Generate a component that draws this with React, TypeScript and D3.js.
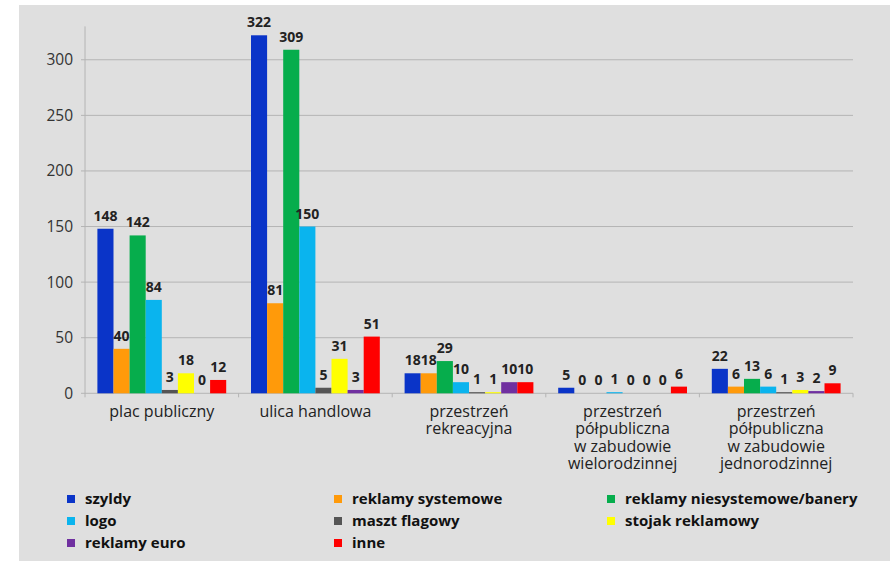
import React from "react";
import * as d3 from "d3";

const categories: string[][] = [
  ["plac publiczny"],
  ["ulica handlowa"],
  ["przestrzeń", "rekreacyjna"],
  ["przestrzeń", "półpubliczna", "w zabudowie", "wielorodzinnej"],
  ["przestrzeń", "półpubliczna", "w zabudowie", "jednorodzinnej"],
];

const seriesNames = [
  "szyldy",
  "reklamy systemowe",
  "reklamy niesystemowe/banery",
  "logo",
  "maszt flagowy",
  "stojak reklamowy",
  "reklamy euro",
  "inne",
];

const seriesColors = [
  "#0a34c8",
  "#ff9a0a",
  "#06ad4c",
  "#0ab4ee",
  "#555555",
  "#ffff00",
  "#7030a0",
  "#ff0000",
];

// one array per series, one value per category
const szyldy = [148, 322, 18, 5, 22];
const reklamySystemowe = [40, 81, 18, 0, 6];
const reklamyNiesystemowe = [142, 309, 29, 0, 13];
const logo = [84, 150, 10, 1, 6];
const masztFlagowy = [3, 5, 1, 0, 1];
const stojakReklamowy = [18, 31, 1, 0, 3];
const reklamyEuro = [0, 3, 10, 0, 2];
const inne = [12, 51, 10, 6, 9];

const seriesValues = [
  szyldy,
  reklamySystemowe,
  reklamyNiesystemowe,
  logo,
  masztFlagowy,
  stojakReklamowy,
  reklamyEuro,
  inne,
];

const yTicks = [0, 50, 100, 150, 200, 250, 300];

// legend order, laid out in three columns
const legendOrder = [0, 1, 2, 3, 4, 5, 6, 7];

export default function App() {
  const W = 890;
  const H = 561;
  const left = 85;
  const right = 853;
  const top = 26.4;
  const bottom = 393.3;

  const x0 = d3
    .scaleBand<number>()
    .domain(categories.map((_, i) => i))
    .range([left, right])
    .padding(0);
  const bw = x0.bandwidth();
  const x1 = d3
    .scaleBand<number>()
    .domain(seriesNames.map((_, i) => i))
    .range([12.4, bw - 12.4])
    .padding(0);
  const y = d3.scaleLinear().domain([0, 330]).range([bottom, top]);

  const font = "'Open Sans', 'DejaVu Sans', sans-serif";
  const legendCols = [67, 334, 607];
  const legendRows = [499, 521, 543];

  return (
    <svg
      width={W}
      height={H}
      style={{ position: "absolute", left: 0, top: 0 }}
      fontFamily={font}
    >
      <rect x={0} y={0} width={W} height={H} fill="#ffffff" />
      <rect x={19} y={5} width={W - 19} height={H - 5} fill="#dfdfdf" />

      {/* gridlines */}
      {yTicks.slice(1).map((t) => (
        <line
          key={"g" + t}
          x1={left}
          x2={right}
          y1={y(t)}
          y2={y(t)}
          stroke="#b4b4b4"
          strokeWidth={1}
        />
      ))}

      {/* y axis */}
      <line x1={left} x2={left} y1={top} y2={bottom} stroke="#b4b4b4" />
      {yTicks.map((t) => (
        <g key={"t" + t}>
          <line x1={left - 4} x2={left} y1={y(t)} y2={y(t)} stroke="#b4b4b4" />
          <text
            x={73}
            y={y(t)}
            dy="0.35em"
            textAnchor="end"
            fontSize={15.5}
            fill="#333"
          >
            {t}
          </text>
        </g>
      ))}

      {/* x axis */}
      <line x1={left} x2={right} y1={bottom} y2={bottom} stroke="#b4b4b4" />
      {d3.range(categories.length + 1).map((k) => (
        <line
          key={"xt" + k}
          x1={left + k * bw}
          x2={left + k * bw}
          y1={bottom}
          y2={bottom + 4}
          stroke="#b4b4b4"
        />
      ))}

      {/* bars */}
      {categories.map((_, ci) => (
        <g key={"c" + ci} transform={`translate(${x0(ci)},0)`}>
          {seriesValues.map((vals, si) => {
            const v = vals[ci];
            const bx = x1(si)!;
            return (
              <g key={"b" + si}>
                <rect
                  x={bx}
                  y={y(v)}
                  width={x1.bandwidth()}
                  height={bottom - y(v)}
                  fill={seriesColors[si]}
                />
                <text
                  x={bx + x1.bandwidth() / 2}
                  y={y(v) - 8}
                  textAnchor="middle"
                  fontSize={14}
                  fontWeight="bold"
                  fill="#222"
                >
                  {v}
                </text>
              </g>
            );
          })}
        </g>
      ))}

      {/* category labels */}
      {categories.map((lines, ci) => (
        <text
          key={"cl" + ci}
          x={x0(ci)! + bw / 2}
          y={416.5}
          textAnchor="middle"
          fontSize={16}
          fill="#222"
        >
          {lines.map((ln, li) => (
            <tspan key={li} x={x0(ci)! + bw / 2} dy={li === 0 ? 0 : 17.5}>
              {ln}
            </tspan>
          ))}
        </text>
      ))}

      {/* legend */}
      {legendOrder.map((si, k) => {
        const cx = legendCols[k % 3];
        const cy = legendRows[Math.floor(k / 3)];
        return (
          <g key={"l" + si}>
            <rect x={cx} y={cy - 4} width={8} height={8} fill={seriesColors[si]} />
            <text
              x={cx + 18}
              y={cy}
              dy="0.35em"
              fontSize={15}
              fontWeight="bold"
              fill="#111"
            >
              {seriesNames[si]}
            </text>
          </g>
        );
      })}
    </svg>
  );
}
